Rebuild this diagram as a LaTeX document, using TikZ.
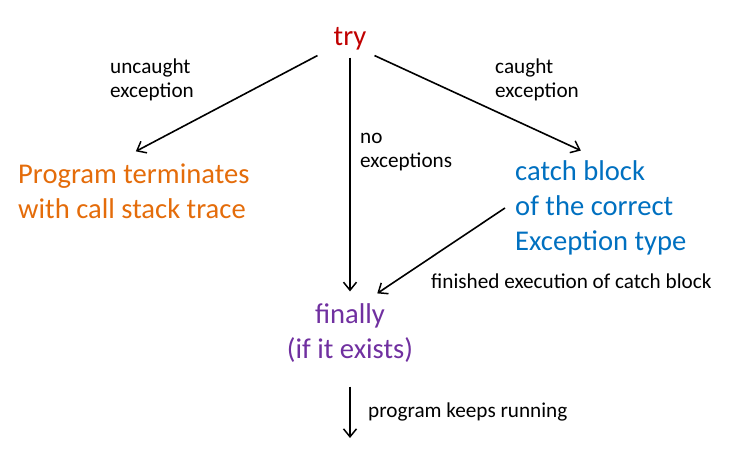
\documentclass[tikz,border=0pt]{standalone}
\usepackage{fontspec}
\setmainfont{Carlito}
\usetikzlibrary{arrows.meta}
\definecolor{T}{RGB}{192,0,0}
\definecolor{P}{RGB}{228,108,10}
\definecolor{C}{RGB}{0,112,192}
\definecolor{F}{RGB}{112,48,160}
\newcommand{\bigtext}{\fontsize{28.6}{35}\selectfont}
\newcommand{\smalltext}{\fontsize{21.2}{24}\selectfont}
\tikzset{
  big/.style={font=\bigtext, inner sep=2pt},
  small/.style={font=\smalltext, inner sep=2pt, align=left, anchor=west},
  arr/.style={line width=1.6pt, -{Straight Barb[length=8pt,width=13pt,line width=1.5pt]}}
}
\begin{document}
\begin{tikzpicture}[x=1pt,y=-1pt]
\useasboundingbox (0,0) rectangle (755,473);
\node[big, text=T] (try) at (350,39) {try};
\node[big, text=P, anchor=west, align=left] (prog) at (16,191) {Program terminates\\with call stack trace};
\node[big, text=C, anchor=west, align=left] (catch) at (513,208) {catch block\\of the correct\\Exception type};
\node[big, text=F, align=center] (finally) at (350,333) {finally\\(if it exists)};
\coordinate (out) at (350,438);
    \node[small] (uncaught) at (108,80) {uncaught\\exception};
    \node[small] (caught) at (493,80) {caught\\exception};
    \node[small] (noexc) at (358,152) {no\\exceptions};
    \node[small] (finished) at (429,281) {finished execution of catch block};
    \node[small] (keeps) at (366,412) {program keeps running};
\draw[arr] ([xshift=-14pt,yshift=-3pt]try.south west) -- ([xshift=2pt,yshift=10pt]prog.north);
\draw[arr] ([xshift=6pt,yshift=-3pt]try.south east) -- ([xshift=-20pt,yshift=8pt]catch.north);
\draw[arr] ([yshift=-5pt]try.south) -- ([yshift=10pt]finally.north);
\draw[arr] ([xshift=-8pt]catch.west) -- ([xshift=-38pt,yshift=8pt]finally.north east);
\draw[arr] ([yshift=-22pt]finally.south) -- (out);
\end{tikzpicture}
\end{document}
